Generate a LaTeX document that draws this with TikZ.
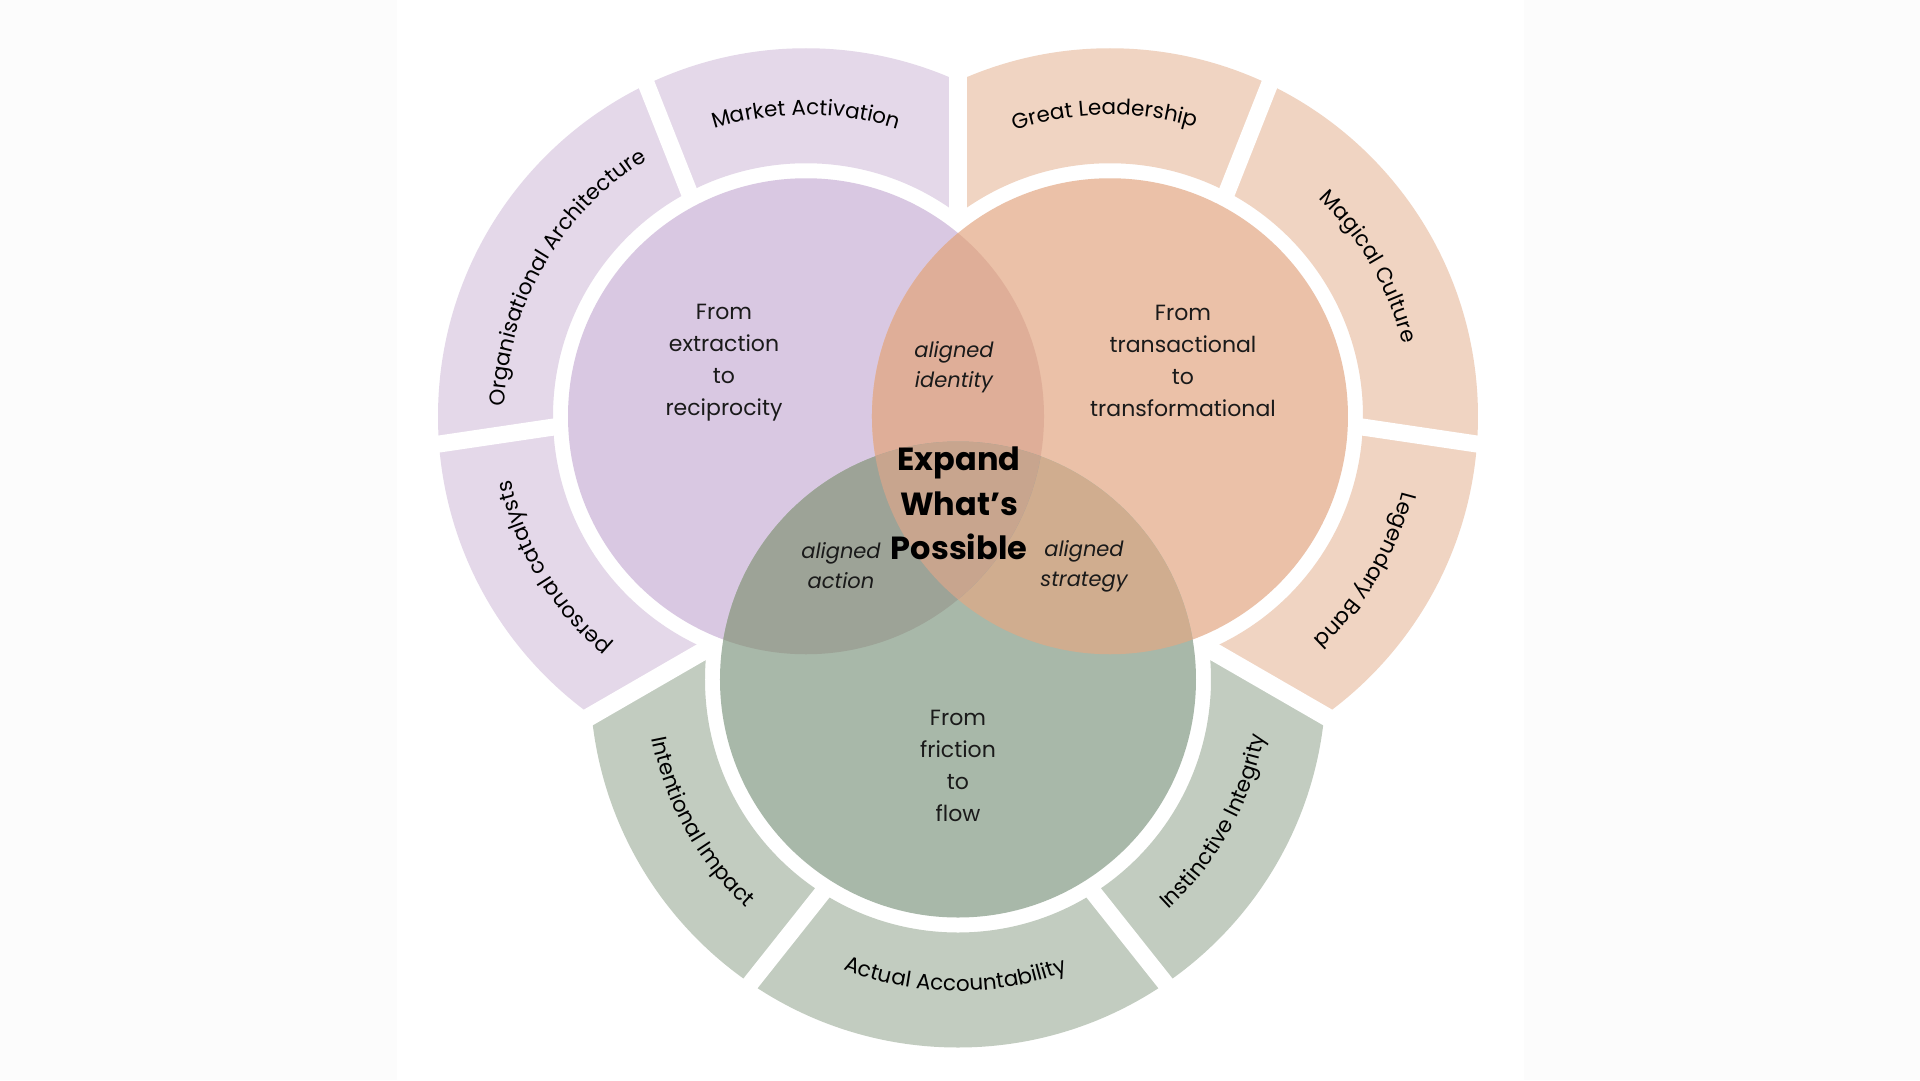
\documentclass[tikz,border=0pt]{standalone}
\usepackage{fontspec}
\setmainfont{Poppins}
\usetikzlibrary{calc,decorations.text}

\definecolor{pageGrey}{HTML}{FCFCFC}
\definecolor{ringPurple}{HTML}{E4D8E9}
\definecolor{ringOrange}{HTML}{F0D4C2}
\definecolor{ringGreen}{HTML}{C2CCC0}
\definecolor{discPurple}{HTML}{D9C8E2}
\definecolor{discOrange}{HTML}{EBC1A8}
\definecolor{discGreen}{HTML}{A8B8A9}
\definecolor{mixPO}{HTML}{DFAE98}
\definecolor{mixPG}{HTML}{9DA397}
\definecolor{mixOG}{HTML}{D0AD8F}
\definecolor{mixPOG}{HTML}{C8A58E}
\definecolor{inkText}{HTML}{1A1A1A}

\newcommand\ringfont{\fontsize{21.5}{25}\selectfont}

% ring band of one disc, cut to its wedge round the centre
\newcommand\ringband[4]{%
  \begin{scope}
    \clip (0,0) -- (#2:900) -- ({(#2+#3)/2}:900) -- (#3:900) -- cycle;
    \fill[#4, even odd rule] (#1) circle[radius=368] (#1) circle[radius=253];
  \end{scope}}
\newcommand\ringgaps[2]{%
  \begin{scope}[shift={(#1)}, rotate=#2]
    \draw[gapline] (184.8,113) -- (320.5,220.7);
    \draw[gapline] (184.8,-113) -- (320.5,-220.7);
  \end{scope}}
% curved labels: clockwise (tops out) and counter clockwise (tops in)
\newcommand\cwlabel[4]{%
  \path[inkText, decorate, decoration={text along path, text align=center, text={|\ringfont|#4}}]
    ($(#1)+(#2+45:#3)$) arc[start angle=#2+45, end angle=#2-45, radius=#3];}
\newcommand\ccwlabel[4]{%
  \path[inkText, decorate, decoration={text along path, text align=center, text={|\ringfont|#4}}]
    ($(#1)+(#2-45:#3)$) arc[start angle=#2-45, end angle=#2+45, radius=#3];}

\tikzset{
  separator/.style={white, line width=18pt},
  gapline/.style={white, line width=17pt},
  disctext/.style={align=center, text=inkText, font=\fontsize{22}{32}\selectfont},
  overlaptext/.style={align=center, text=inkText, font=\itshape\fontsize{21}{30}\selectfont},
  centretext/.style={align=center, text=black, font=\bfseries\fontsize{32}{44.5}\selectfont},
}

\begin{document}
\begin{tikzpicture}[x=1pt, y=1pt]
\useasboundingbox (-958,-576) rectangle (962,504);
\fill[pageGrey] (-958,-576) rectangle (962,504);
\fill[white] (-561,-576) rectangle (566,504);

\coordinate (C) at (0,0);
\coordinate (P) at (150:175.5);
\coordinate (O) at (30:175.5);
\coordinate (G) at (270:175.5);

% outer bands
\ringband{P}{90}{210}{ringPurple}
\ringband{O}{-30}{90}{ringOrange}
\ringband{G}{210}{330}{ringGreen}
\draw[separator] (C) -- (90:600);
\draw[separator] (C) -- (210:600);
\draw[separator] (C) -- (330:600);
\ringgaps{P}{150}
\ringgaps{O}{30}
\ringgaps{G}{270}

% discs and their overlaps
\fill[discPurple] (P) circle[radius=238];
\fill[discOrange] (O) circle[radius=238];
\fill[discGreen] (G) circle[radius=238];
\begin{scope}
  \clip (O) circle[radius=238];
  \fill[mixOG] (G) circle[radius=238];
\end{scope}
\begin{scope}
  \clip (P) circle[radius=238];
  \fill[mixPO] (O) circle[radius=238];
  \fill[mixPG] (G) circle[radius=238];
  \clip (O) circle[radius=238];
  \fill[mixPOG] (G) circle[radius=238];
\end{scope}

% band labels
\cwlabel{P}{90}{301.5}{Market Activation}
\cwlabel{P}{150}{301.5}{Organisational Architecture}
\cwlabel{P}{211}{301.5}{personal catalysts}
\cwlabel{O}{91}{301.5}{Great Leadership}
\cwlabel{O}{30}{301.5}{Magical Culture}
\cwlabel{O}{-31}{301.5}{Legendary Band}
\ccwlabel{G}{209}{311.5}{Intentional Impact}
\ccwlabel{G}{269.5}{311.5}{Actual Accountability}
\ccwlabel{G}{331}{311.5}{Instinctive Integrity}

% disc texts
\node[disctext] (reciprocity) at (-234,141) {From\\extraction\\to\\reciprocity};
\node[disctext] (transform) at (225,143) {From\\transactional\\to\\transformational};
\node[disctext] (flow) at (0,-261.5) {From\\friction\\to\\flow};
\node[overlaptext] (identity) at (-4,136.5) {aligned\\identity};
\node[overlaptext] (action) at (-117,-61.5) {aligned\\action};
\node[overlaptext] (strategy) at (126,-62.5) {aligned\\strategy};
\node[centretext] (expand) at (1,0.5) {Expand\\What’s\\Possible};
\end{tikzpicture}
\end{document}
